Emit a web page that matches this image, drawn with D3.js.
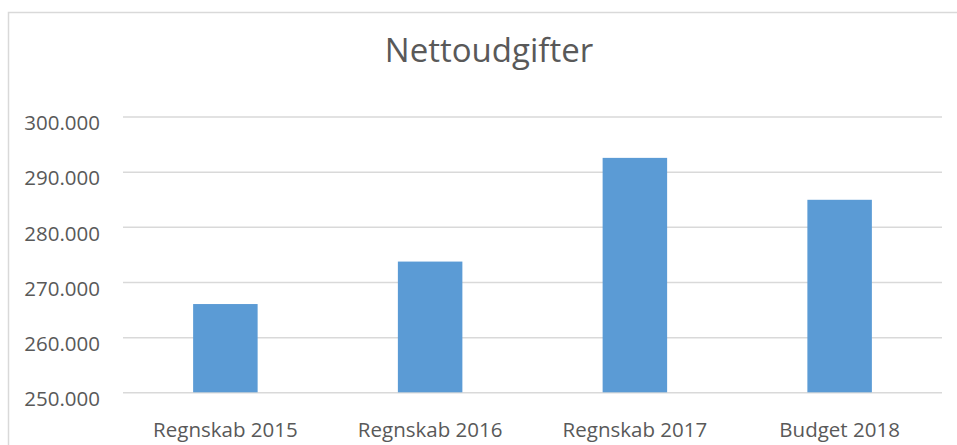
<!DOCTYPE html>
<html>
<head>
<meta charset="utf-8">
<script src="https://cdn.jsdelivr.net/npm/d3@7"></script>
<style>
  html, body { margin: 0; padding: 0; background: #fff; }
  svg { display: block; font-family: 'Open Sans', sans-serif; }
</style>
</head>
<body>
<div class="chart"></div>
<script>
const categories = ['Regnskab 2015', 'Regnskab 2016', 'Regnskab 2017', 'Budget 2018'];
const values = [266000, 273700, 292500, 284900];
const yTicks = [250000, 260000, 270000, 280000, 290000, 300000];
const title = 'Nettoudgifter';

const width = 957;
const height = 445;
const margin = { top: 116.5, right: 15, bottom: 52.7, left: 123 };

const svg = d3.select('.chart')
  .append('svg')
  .attr('width', width)
  .attr('height', height);

// chart frame (only top and left edges are visible in the crop)
svg.append('path')
  .attr('d', `M8.5,${height} V12.5 H${width}`)
  .attr('fill', 'none')
  .attr('stroke', '#d9d9d9')
  .attr('stroke-width', 1.5);

svg.append('text')
  .attr('x', 489)
  .attr('y', 62)
  .attr('text-anchor', 'middle')
  .attr('fill', '#595959')
  .style('font-size', '33px')
  .text(title);

const x = d3.scaleBand()
  .domain(categories)
  .range([margin.left, width - margin.right])
  .paddingInner(0.685)
  .paddingOuter(0.3425);

const y = d3.scaleLinear()
  .domain([250000, 300000])
  .range([height - margin.bottom, margin.top]);

const fmt = (v) => d3.format(',')(v).replace(/,/g, '.');

// gridlines + tick labels
const yAxis = svg.append('g')
  .attr('transform', `translate(${margin.left},0)`)
  .call(d3.axisLeft(y)
    .tickValues(yTicks)
    .tickFormat(fmt)
    .tickSize(-(width - margin.right - margin.left))
    .tickPadding(23));
yAxis.select('.domain').remove();
yAxis.selectAll('.tick line')
  .attr('stroke', '#d9d9d9')
  .attr('stroke-width', 1.5);
yAxis.selectAll('.tick text')
  .attr('fill', '#595959')
  .attr('dy', '0.65em')
  .style('font-size', '20.5px')
  .style('font-family', "'Open Sans', sans-serif");

svg.append('g')
  .selectAll('rect')
  .data(values)
  .join('rect')
  .attr('x', (d, i) => x(categories[i]))
  .attr('y', (d) => y(d))
  .attr('width', x.bandwidth())
  .attr('height', (d) => y(250000) - y(d))
  .attr('fill', '#5b9bd5');

// category labels
const xAxis = svg.append('g')
  .attr('transform', `translate(0,${y(250000)})`)
  .call(d3.axisBottom(x).tickSize(0).tickPadding(30));
xAxis.select('.domain').remove();
xAxis.selectAll('.tick text')
  .attr('fill', '#595959')
  .style('font-size', '20.5px')
  .style('font-family', "'Open Sans', sans-serif");
</script>
</body>
</html>
